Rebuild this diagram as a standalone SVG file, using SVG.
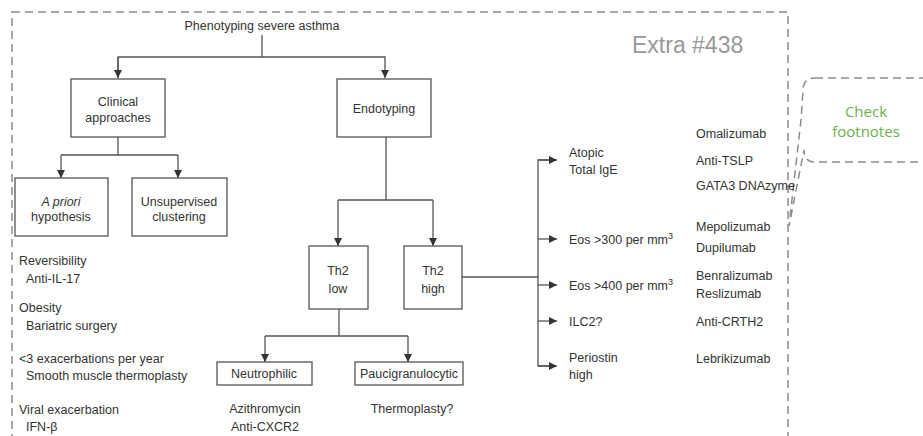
<svg xmlns="http://www.w3.org/2000/svg" width="923" height="436" viewBox="0 0 923 436">
<style>
.t{font-family:"Liberation Sans",Arial,sans-serif;font-size:12.5px;fill:#333}
.c{text-anchor:middle}
.box{fill:#fff;stroke:#555;stroke-width:1.3}
.ln{fill:none;stroke:#555;stroke-width:1.3}
.dash{fill:none;stroke:#8c8c8c;stroke-width:1.5;stroke-dasharray:8 5}
</style>
<defs>
<marker id="ah" viewBox="0 0 8 8" refX="8" refY="4" markerWidth="8" markerHeight="8" markerUnits="userSpaceOnUse" orient="auto">
<path d="M0,0 L8,4 L0,8 z" fill="#333"/>
</marker>
</defs>
<rect class="dash" x="12" y="12" width="776" height="440"/>
<text x="632" y="53" style="font-family:'Liberation Sans',Arial,sans-serif;font-size:23px;fill:#999">Extra #438</text>
<g id="callout">
<path class="dash" d="M815,78 H935 V162 H815 Q804,162 804,150 L789,226 L801,120 L803,90 Q803,78 815,78 Z"/>
<text x="866" y="117" class="c" style="font-family:'Open Sans','Noto Sans',sans-serif;font-size:15px;fill:#6ab04c">Check</text>
<text x="866" y="137" class="c" style="font-family:'Open Sans','Noto Sans',sans-serif;font-size:15px;fill:#6ab04c">footnotes</text>
</g>
<g id="connectors">
<path class="ln" d="M262,35 V57"/>
<path class="ln" d="M118,78 V57 H385 V78" marker-end="url(#ah)"/>
<path class="ln" d="M118,57 V78" marker-end="url(#ah)"/>
<path class="ln" d="M118,137 V155"/>
<path class="ln" d="M61,155 H178"/>
<path class="ln" d="M61,155 V178" marker-end="url(#ah)"/>
<path class="ln" d="M178,155 V178" marker-end="url(#ah)"/>
<path class="ln" d="M386,137 V200"/>
<path class="ln" d="M338,200 H433"/>
<path class="ln" d="M338,200 V246" marker-end="url(#ah)"/>
<path class="ln" d="M433,200 V246" marker-end="url(#ah)"/>
<path class="ln" d="M339,309 V336"/>
<path class="ln" d="M265,336 H408"/>
<path class="ln" d="M265,336 V362" marker-end="url(#ah)"/>
<path class="ln" d="M408,336 V362" marker-end="url(#ah)"/>
<path class="ln" d="M462,277 H538"/>
<path class="ln" d="M556,160 H538 V366 H556"/>
<path class="ln" d="M538,160 H557" marker-end="url(#ah)"/>
<path class="ln" d="M538,239 H557" marker-end="url(#ah)"/>
<path class="ln" d="M538,285 H557" marker-end="url(#ah)"/>
<path class="ln" d="M538,321 H557" marker-end="url(#ah)"/>
<path class="ln" d="M538,366 H557" marker-end="url(#ah)"/>
</g>
<g id="title"><text class="t c" x="262" y="30">Phenotyping severe asthma</text></g>
<g id="clinical"><rect class="box" x="71" y="79" width="94" height="58"/>
<text class="t c" x="118" y="106">Clinical</text><text class="t c" x="118" y="122">approaches</text></g>
<g id="endotyping"><rect class="box" x="337" y="79" width="94" height="58"/>
<text class="t c" x="384" y="113">Endotyping</text></g>
<g id="apriori"><rect class="box" x="15" y="178" width="93" height="58"/>
<text class="t c" x="61" y="206" font-style="italic">A priori</text><text class="t c" x="61" y="221">hypothesis</text></g>
<g id="unsupervised"><rect class="box" x="132" y="178" width="95" height="58"/>
<text class="t c" x="179" y="206">Unsupervised</text><text class="t c" x="179" y="221">clustering</text></g>
<g id="th2low"><rect class="box" x="309" y="246" width="59" height="63"/>
<text class="t c" x="338" y="275">Th2</text><text class="t c" x="338" y="293">low</text></g>
<g id="th2high"><rect class="box" x="404" y="246" width="58" height="63"/>
<text class="t c" x="433" y="275">Th2</text><text class="t c" x="433" y="293">high</text></g>
<g id="neutrophilic"><rect class="box" x="217" y="362" width="95" height="23"/>
<text class="t c" x="264" y="378">Neutrophilic</text></g>
<g id="pauci"><rect class="box" x="355" y="362" width="108" height="23"/>
<text class="t c" x="409" y="378">Paucigranulocytic</text></g>
<g id="clinical-list">
<text class="t" x="19" y="265">Reversibility</text>
<text class="t" x="26" y="283">Anti-IL-17</text>
<text class="t" x="19" y="312">Obesity</text>
<text class="t" x="26" y="330">Bariatric surgery</text>
<text class="t" x="19" y="363">&lt;3 exacerbations per year</text>
<text class="t" x="26" y="380">Smooth muscle thermoplasty</text>
<text class="t" x="19" y="414">Viral exacerbation</text>
<text class="t" x="26" y="431">IFN-β</text>
</g>
<g id="low-treatments">
<text class="t c" x="265" y="413">Azithromycin</text>
<text class="t c" x="265" y="431">Anti-CXCR2</text>
<text class="t c" x="412" y="413">Thermoplasty?</text>
</g>
<g id="high-markers">
<text class="t" x="569" y="157">Atopic</text>
<text class="t" x="569" y="174">Total IgE</text>
<text class="t" x="569" y="244">Eos &gt;300 per mm<tspan dy="-5" font-size="9">3</tspan></text>
<text class="t" x="569" y="290">Eos &gt;400 per mm<tspan dy="-5" font-size="9">3</tspan></text>
<text class="t" x="569" y="326">ILC2?</text>
<text class="t" x="569" y="362">Periostin</text>
<text class="t" x="569" y="379">high</text>
</g>
<g id="high-treatments">
<text class="t" x="696" y="138">Omalizumab</text>
<text class="t" x="696" y="165">Anti-TSLP</text>
<text class="t" x="696" y="190">GATA3 DNAzyme</text>
<text class="t" x="696" y="231">Mepolizumab</text>
<text class="t" x="696" y="252">Dupilumab</text>
<text class="t" x="696" y="280">Benralizumab</text>
<text class="t" x="696" y="298">Reslizumab</text>
<text class="t" x="696" y="326">Anti-CRTH2</text>
<text class="t" x="696" y="363">Lebrikizumab</text>
</g>
</svg>
